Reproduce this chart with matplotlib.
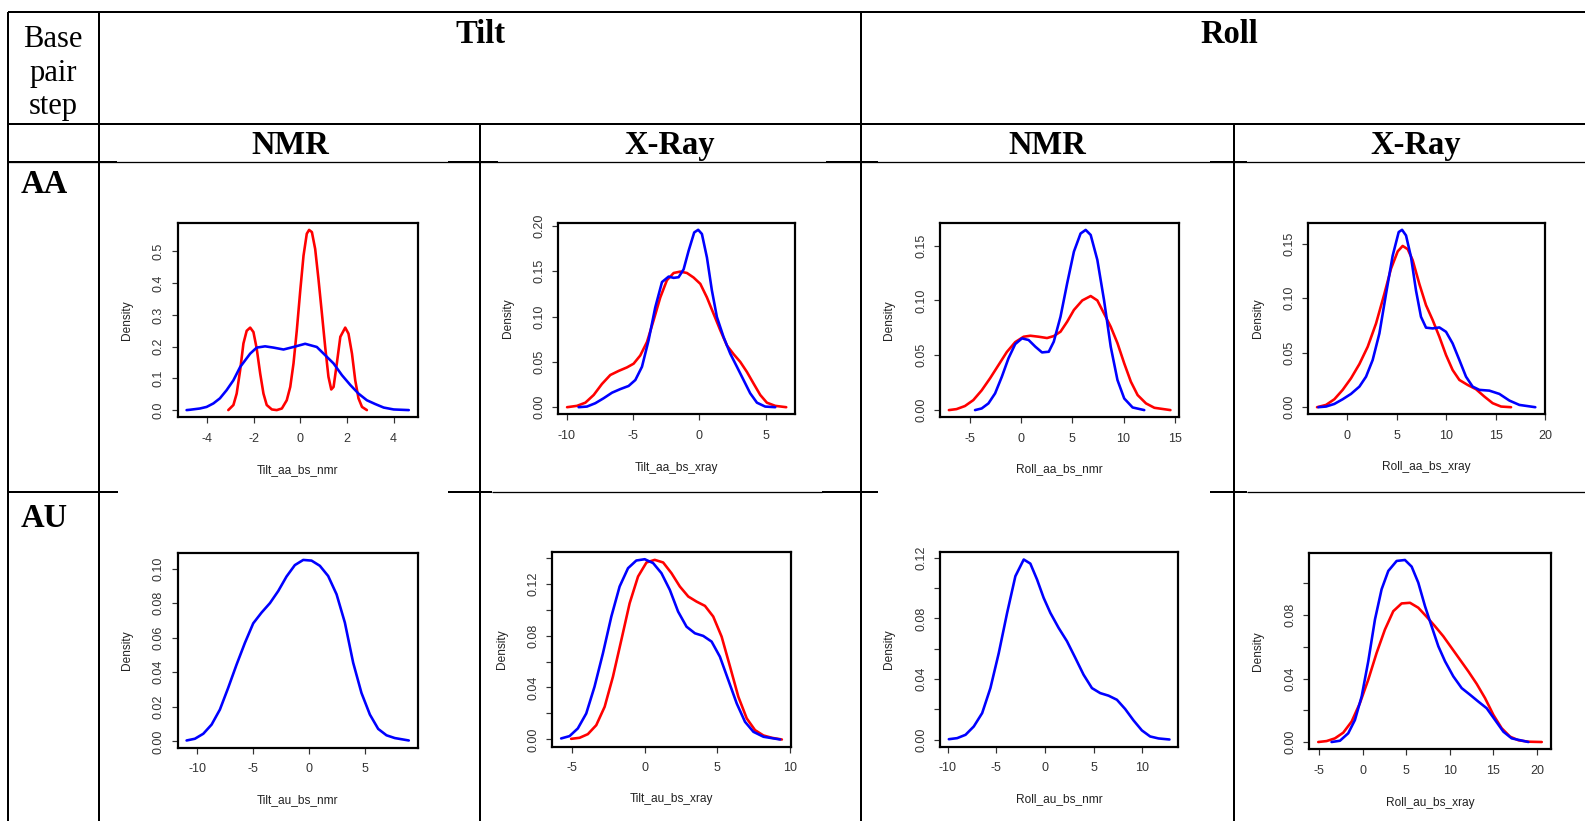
import matplotlib
matplotlib.use("Agg")
import matplotlib.pyplot as plt

W, H = 1585, 821

# ---------------- data ----------------
COLUMNS = ["Tilt", "Roll"]
SUBCOLUMNS = ["NMR", "X-Ray", "NMR", "X-Ray"]
ROWS = ["AA", "AU"]

TILT_AA_NMR_RED = [(-3.10, 0), (-2.88, 0.016), (-2.74, 0.052), (-2.59, 0.126), (-2.45, 0.21), (-2.31, 0.25),
                   (-2.16, 0.26), (-2.02, 0.246), (-1.88, 0.194), (-1.73, 0.115), (-1.59, 0.052), (-1.45, 0.016),
                   (-1.23, 0.002), (-1.02, 0.0), (-0.80, 0.005), (-0.59, 0.031), (-0.44, 0.073), (-0.30, 0.147),
                   (-0.16, 0.25), (-0.01, 0.377), (0.13, 0.487), (0.27, 0.556), (0.37, 0.568), (0.49, 0.561),
                   (0.63, 0.508), (0.77, 0.414), (0.92, 0.304), (1.06, 0.199), (1.20, 0.105), (1.32, 0.065),
                   (1.42, 0.073), (1.56, 0.147), (1.71, 0.231), (1.92, 0.26), (2.06, 0.241), (2.21, 0.178),
                   (2.35, 0.094), (2.49, 0.037), (2.64, 0.010), (2.85, 0.0)]
TILT_AA_NMR_BLUE = [(-4.89, 0.0), (-4.75, 0.001), (-4.32, 0.005), (-4.03, 0.010), (-3.74, 0.021), (-3.46, 0.037),
                    (-3.17, 0.063), (-2.88, 0.094), (-2.59, 0.136), (-2.16, 0.178), (-1.88, 0.197), (-1.52, 0.201),
                    (-1.16, 0.197), (-0.73, 0.191), (-0.30, 0.199), (0.20, 0.209), (0.70, 0.199), (1.13, 0.168),
                    (1.42, 0.147), (1.78, 0.110), (2.14, 0.079), (2.49, 0.052), (2.85, 0.031), (3.21, 0.019),
                    (3.57, 0.008), (4.0, 0.002), (4.65, 0.0)]

TILT_AA_XRAY_RED = [(-9.97, 0), (-9.22, 0.0015), (-8.59, 0.005), (-7.96, 0.0135), (-7.34, 0.0256), (-6.71, 0.0355),
                    (-6.08, 0.040), (-5.45, 0.0439), (-4.95, 0.048), (-4.45, 0.057), (-3.94, 0.072), (-3.44, 0.096),
                    (-2.94, 0.121), (-2.44, 0.140), (-1.93, 0.148), (-1.43, 0.1495), (-0.93, 0.148), (-0.43, 0.143),
                    (0.08, 0.136), (0.58, 0.121), (1.08, 0.103), (1.58, 0.085), (2.09, 0.068), (2.59, 0.0585),
                    (3.09, 0.050), (3.59, 0.039), (4.10, 0.026), (4.60, 0.0135), (5.10, 0.005), (5.73, 0.0015),
                    (6.56, 0.0)]
TILT_AA_XRAY_BLUE = [(-9.10, 0), (-8.47, 0.0007), (-7.84, 0.0044), (-7.21, 0.0099), (-6.58, 0.016), (-5.95, 0.020),
                     (-5.33, 0.0234), (-4.82, 0.030), (-4.32, 0.0446), (-3.82, 0.0739), (-3.32, 0.110), (-2.81, 0.138),
                     (-2.31, 0.144), (-1.93, 0.1426), (-1.56, 0.1433), (-1.18, 0.152), (-0.80, 0.1726), (-0.38, 0.1927),
                     (-0.08, 0.1956), (0.20, 0.191), (0.58, 0.165), (0.95, 0.129), (1.33, 0.0995), (1.83, 0.0775),
                     (2.34, 0.059), (2.84, 0.0446), (3.34, 0.030), (3.84, 0.0154), (4.35, 0.005), (4.97, 0.0007),
                     (5.73, 0.0)]

ROLL_AA_NMR_RED = [(-7.08, 0), (-6.33, 0.0009), (-5.51, 0.0037), (-4.69, 0.0091), (-3.87, 0.018), (-3.05, 0.029),
                   (-2.23, 0.041), (-1.41, 0.053), (-0.59, 0.062), (0.23, 0.0669), (0.89, 0.0678), (1.70, 0.0669),
                   (2.52, 0.0657), (3.18, 0.0675), (3.84, 0.0715), (4.49, 0.0806), (5.15, 0.0913), (5.97, 0.100),
                   (6.79, 0.104), (7.44, 0.100), (8.10, 0.088), (8.75, 0.076), (9.41, 0.061), (10.07, 0.0426),
                   (10.72, 0.0259), (11.38, 0.0137), (12.20, 0.0061), (13.02, 0.0021), (14.59, 0.0)]
ROLL_AA_NMR_BLUE = [(-4.52, 0), (-3.87, 0.0015), (-3.21, 0.0061), (-2.56, 0.0152), (-1.90, 0.0304), (-1.25, 0.0472),
                    (-0.59, 0.0602), (0.07, 0.0654), (0.72, 0.0639), (1.38, 0.0578), (2.03, 0.0526), (2.69, 0.0532),
                    (3.18, 0.0624), (3.84, 0.0852), (4.49, 0.1156), (5.15, 0.1445), (5.80, 0.161), (6.30, 0.1643),
                    (6.79, 0.1597), (7.44, 0.137), (8.10, 0.100), (8.75, 0.0578), (9.41, 0.0274), (10.07, 0.0106),
                    (10.89, 0.0024), (12.03, 0.0)]

ROLL_AA_XRAY_RED = [(-3.03, 0), (-2.12, 0.0021), (-1.28, 0.0073), (-0.44, 0.0159), (0.40, 0.0265), (1.25, 0.0396),
                    (2.09, 0.0555), (2.93, 0.0768), (3.77, 0.104), (4.44, 0.127), (5.12, 0.143), (5.62, 0.148),
                    (6.13, 0.145), (6.63, 0.135), (7.31, 0.113), (7.98, 0.0936), (8.65, 0.080), (9.33, 0.0646),
                    (10.0, 0.0479), (10.67, 0.0341), (11.35, 0.025), (12.19, 0.0204), (13.03, 0.0165), (13.87, 0.0098),
                    (14.71, 0.0037), (15.56, 0.0006), (16.57, 0.0)]
ROLL_AA_XRAY_BLUE = [(-2.90, 0), (-2.12, 0.0006), (-1.28, 0.003), (-0.44, 0.0073), (0.40, 0.0122), (1.25, 0.0189),
                     (1.92, 0.028), (2.59, 0.0433), (3.27, 0.0677), (3.94, 0.104), (4.61, 0.139), (5.22, 0.1607),
                     (5.56, 0.1628), (5.96, 0.1576), (6.46, 0.138), (6.97, 0.107), (7.47, 0.083), (7.98, 0.073),
                     (8.65, 0.0723), (9.33, 0.0732), (10.0, 0.0692), (10.67, 0.0585), (11.35, 0.0433), (12.02, 0.028),
                     (12.69, 0.0189), (13.37, 0.0159), (14.38, 0.0152), (15.39, 0.0122), (16.40, 0.0061),
                     (17.41, 0.0021), (19.02, 0.0)]

TILT_AU_NMR_BLUE = [(-10.93, 0.0005), (-10.19, 0.0015), (-9.44, 0.0044), (-8.70, 0.0097), (-7.96, 0.0184),
                    (-7.22, 0.031), (-6.47, 0.0445), (-5.73, 0.057), (-4.99, 0.0683), (-4.25, 0.0745), (-3.50, 0.080),
                    (-2.76, 0.087), (-2.02, 0.0954), (-1.28, 0.102), (-0.53, 0.105), (0.21, 0.1046), (0.95, 0.1016),
                    (1.69, 0.0957), (2.44, 0.0851), (3.18, 0.0687), (3.92, 0.0455), (4.66, 0.028), (5.41, 0.0155),
                    (6.15, 0.0072), (6.89, 0.0035), (7.63, 0.0019), (8.88, 0.0005)]

TILT_AU_XRAY_RED = [(-5.07, 0.0005), (-4.49, 0.0013), (-3.92, 0.0041), (-3.34, 0.011), (-2.76, 0.0252),
                    (-2.19, 0.0483), (-1.61, 0.0766), (-1.04, 0.1048), (-0.46, 0.1254), (0.12, 0.1362), (0.69, 0.1382),
                    (1.27, 0.1362), (1.84, 0.128), (2.42, 0.1177), (3.00, 0.110), (3.57, 0.1061), (4.15, 0.1028),
                    (4.72, 0.0946), (5.30, 0.0791), (5.88, 0.056), (6.45, 0.0329), (7.03, 0.0162), (7.60, 0.0072),
                    (8.18, 0.0031), (8.76, 0.0013), (9.45, 0.0)]
TILT_AU_XRAY_BLUE = [(-5.76, 0.0008), (-5.18, 0.0026), (-4.61, 0.0085), (-4.03, 0.020), (-3.46, 0.0406),
                     (-2.88, 0.0663), (-2.30, 0.0946), (-1.73, 0.1177), (-1.15, 0.1318), (-0.58, 0.1377), (0.0, 0.1387),
                     (0.58, 0.1357), (1.15, 0.128), (1.73, 0.1151), (2.30, 0.0984), (2.88, 0.0868), (3.46, 0.0817),
                     (4.03, 0.0797), (4.61, 0.0753), (5.18, 0.0637), (5.76, 0.0457), (6.34, 0.0277), (6.91, 0.0136),
                     (7.49, 0.0059), (8.18, 0.0021), (9.33, 0.0)]

ROLL_AU_NMR_BLUE = [(-9.90, 0.0004), (-9.04, 0.0011), (-8.18, 0.0033), (-7.33, 0.0088), (-6.47, 0.0176),
                    (-5.62, 0.0341), (-4.76, 0.0572), (-3.90, 0.0837), (-3.05, 0.1079), (-2.19, 0.1189),
                    (-1.51, 0.1162), (-0.82, 0.1057), (-0.14, 0.0936), (0.55, 0.0837), (1.40, 0.0738), (2.26, 0.065),
                    (3.12, 0.054), (3.97, 0.0429), (4.83, 0.0341), (5.68, 0.0308), (6.54, 0.0291), (7.40, 0.0264),
                    (8.25, 0.0203), (9.11, 0.0128), (9.97, 0.0062), (10.82, 0.0022), (11.68, 0.0009), (12.81, 0.0002)]

ROLL_AU_XRAY_RED = [(-5.09, 0), (-4.13, 0.0006), (-3.18, 0.0023), (-2.22, 0.0059), (-1.26, 0.0129), (-0.31, 0.0245),
                    (0.65, 0.0393), (1.61, 0.0562), (2.56, 0.0709), (3.52, 0.0825), (4.48, 0.0874), (5.44, 0.0878),
                    (6.39, 0.0847), (7.35, 0.079), (8.31, 0.073), (9.26, 0.0667), (10.22, 0.0593), (11.18, 0.0519),
                    (12.14, 0.0445), (13.09, 0.0367), (14.05, 0.0277), (15.01, 0.0171), (15.96, 0.0087),
                    (16.92, 0.0034), (17.88, 0.0011), (19.03, 0.0002), (20.56, 0.0)]
ROLL_AU_XRAY_BLUE = [(-3.56, 0), (-2.60, 0.0008), (-1.65, 0.0055), (-0.88, 0.0139), (-0.11, 0.0287), (0.65, 0.0509),
                     (1.42, 0.0773), (2.18, 0.0963), (2.95, 0.1079), (3.91, 0.1142), (4.86, 0.1148), (5.63, 0.1106),
                     (6.39, 0.1005), (7.16, 0.0857), (7.92, 0.073), (8.69, 0.0604), (9.46, 0.0509), (10.41, 0.0414),
                     (11.37, 0.034), (12.33, 0.0298), (13.28, 0.0255), (14.24, 0.0213), (15.20, 0.0139),
                     (16.16, 0.0065), (17.11, 0.0023), (19.03, 0.0)]

PANELS = [
    dict(name="Tilt_aa_bs_nmr", curves=[TILT_AA_NMR_RED, TILT_AA_NMR_BLUE],
         xt=[-4, -2, 0, 2, 4], yt=[0.0, 0.1, 0.2, 0.3, 0.4, 0.5],
         yl=["0.0", "0.1", "0.2", "0.3", "0.4", "0.5"]),
    dict(name="Tilt_aa_bs_xray", curves=[TILT_AA_XRAY_RED, TILT_AA_XRAY_BLUE],
         xt=[-10, -5, 0, 5], yt=[0.0, 0.05, 0.10, 0.15, 0.20],
         yl=["0.00", "0.05", "0.10", "0.15", "0.20"]),
    dict(name="Roll_aa_bs_nmr", curves=[ROLL_AA_NMR_RED, ROLL_AA_NMR_BLUE],
         xt=[-5, 0, 5, 10, 15], yt=[0.0, 0.05, 0.10, 0.15],
         yl=["0.00", "0.05", "0.10", "0.15"]),
    dict(name="Roll_aa_bs_xray", curves=[ROLL_AA_XRAY_RED, ROLL_AA_XRAY_BLUE],
         xt=[0, 5, 10, 15, 20], yt=[0.0, 0.05, 0.10, 0.15],
         yl=["0.00", "0.05", "0.10", "0.15"]),
    dict(name="Tilt_au_bs_nmr", curves=[None, TILT_AU_NMR_BLUE],
         xt=[-10, -5, 0, 5], yt=[0.0, 0.02, 0.04, 0.06, 0.08, 0.10],
         yl=["0.00", "0.02", "0.04", "0.06", "0.08", "0.10"]),
    dict(name="Tilt_au_bs_xray", curves=[TILT_AU_XRAY_RED, TILT_AU_XRAY_BLUE],
         xt=[-5, 0, 5, 10], yt=[0.0, 0.02, 0.04, 0.06, 0.08, 0.10, 0.12, 0.14],
         yl=["0.00", "", "0.04", "", "0.08", "", "0.12", ""]),
    dict(name="Roll_au_bs_nmr", curves=[None, ROLL_AU_NMR_BLUE],
         xt=[-10, -5, 0, 5, 10], yt=[0.0, 0.02, 0.04, 0.06, 0.08, 0.10, 0.12],
         yl=["0.00", "", "0.04", "", "0.08", "", "0.12"]),
    dict(name="Roll_au_bs_xray", curves=[ROLL_AU_XRAY_RED, ROLL_AU_XRAY_BLUE],
         xt=[-5, 0, 5, 10, 15, 20], yt=[0.0, 0.02, 0.04, 0.06, 0.08, 0.10],
         yl=["0.00", "", "0.04", "", "0.08", ""]),
]

# ---------------- layout (pixels) ----------------
BOXES = [  # left, top, right, bottom
    (177.7, 222.7, 417.7, 417.3), (558.3, 222.7, 795.0, 414.3),
    (940.0, 222.7, 1179.3, 417.3), (1308.3, 222.7, 1545.0, 414.3),
    (177.7, 552.7, 417.7, 747.7), (552.3, 552.0, 790.7, 746.7),
    (940.0, 552.3, 1178.3, 746.7), (1309.3, 552.7, 1550.7, 749.3),
]
XLAB_Y = [470, 467.5, 469.3, 466.7, 800, 799.3, 799.3, 802.7]
YLAB_X = [127.5, 508, 889, 1258, 127.5, 501.7, 888.5, 1258]

PX = 72.0 / 100.0  # points per pixel

fig = plt.figure(figsize=(W / 100, H / 100), dpi=100)
fig.patch.set_facecolor("white")

tab = fig.add_axes([0, 0, 1, 1])
tab.set_xlim(0, W)
tab.set_ylim(H, 0)
tab.axis("off")

thick = 2.0 * PX
thin = 1.3 * PX

def hline(y, x0, x1, lw):
    tab.plot([x0, x1], [y, y], color="black", lw=lw, solid_capstyle="butt")

def vline(x, y0, y1, lw):
    tab.plot([x, x], [y0, y1], color="black", lw=lw, solid_capstyle="butt")

hline(12, 8, W, thick)
hline(124, 8, W, thick)
hline(162, 8, W, thin)
for a, b in [(8, 117), (448, 498), (826, 878), (1210, 1247)]:
    hline(162, a, b, thick)
for a, b in [(8, 118), (448, 492), (822, 878), (1210, 1247)]:
    hline(492, a, b, thick)
for a, b in [(492, 822), (1247, W)]:
    hline(492, a, b, thin)
vline(8, 12, H, thick)
vline(99, 12, H, thick)
vline(480, 124, H, thick)
vline(861, 12, H, thick)
vline(1234, 124, H, thick)

serif = "Liberation Serif"
for txt, yb in zip(["Base", "pair", "step"], [47, 81, 114]):
    tab.text(53, yb, txt, ha="center", va="baseline", fontsize=22, family=serif)
tab.text(480, 43, COLUMNS[0], ha="center", va="baseline", fontsize=23.5, family=serif, fontweight="bold")
tab.text(1229, 43, COLUMNS[1], ha="center", va="baseline", fontsize=23.5, family=serif, fontweight="bold")
for txt, xc in zip(SUBCOLUMNS, [290, 670, 1047, 1416]):
    tab.text(xc, 154, txt, ha="center", va="baseline", fontsize=23.5, family=serif, fontweight="bold")
tab.text(21, 193, ROWS[0], ha="left", va="baseline", fontsize=23.5, family=serif, fontweight="bold")
tab.text(21, 527, ROWS[1], ha="left", va="baseline", fontsize=23.5, family=serif, fontweight="bold")

sans = "Liberation Sans"
for panel, box, xly, ylx in zip(PANELS, BOXES, XLAB_Y, YLAB_X):
    l, t, r, b = box
    ax = fig.add_axes([l / W, 1 - b / H, (r - l) / W, (b - t) / H])
    ax.set_facecolor("none")
    for curve, col in zip(panel["curves"], ["#FF0000", "#0000FF"]):
        if curve is None:
            continue
        xs = [p[0] for p in curve]
        ys = [p[1] for p in curve]
        ax.plot(xs, ys, color=col, lw=2.6 * PX, solid_joinstyle="round", solid_capstyle="round")
    ax.margins(x=0.04, y=0.04)
    ax.set_xticks(panel["xt"])
    ax.set_xticklabels([str(v) for v in panel["xt"]], family=sans, fontsize=9)
    ax.set_yticks(panel["yt"])
    ax.set_yticklabels(panel["yl"], rotation=90, va="center", family=sans, fontsize=9)
    ax.tick_params(axis="both", direction="out", length=6 * PX, width=1.2 * PX,
                   colors="#333333")
    ax.tick_params(axis="x", pad=7.0)
    ax.tick_params(axis="y", pad=5.0)
    for s in ax.spines.values():
        s.set_linewidth(2.2 * PX)
        s.set_color("black")
    ax.set_xlabel(panel["name"], family=sans, fontsize=8.6, color="#222222", va="center")
    ax.set_ylabel("Density", family=sans, fontsize=8.6, color="#222222", va="center")
    ax.xaxis.set_label_coords(0.5, (b - xly) / (b - t))
    ax.yaxis.set_label_coords((ylx - l) / (r - l), 0.5)

fig.savefig("out.png", dpi=100, facecolor="white")
